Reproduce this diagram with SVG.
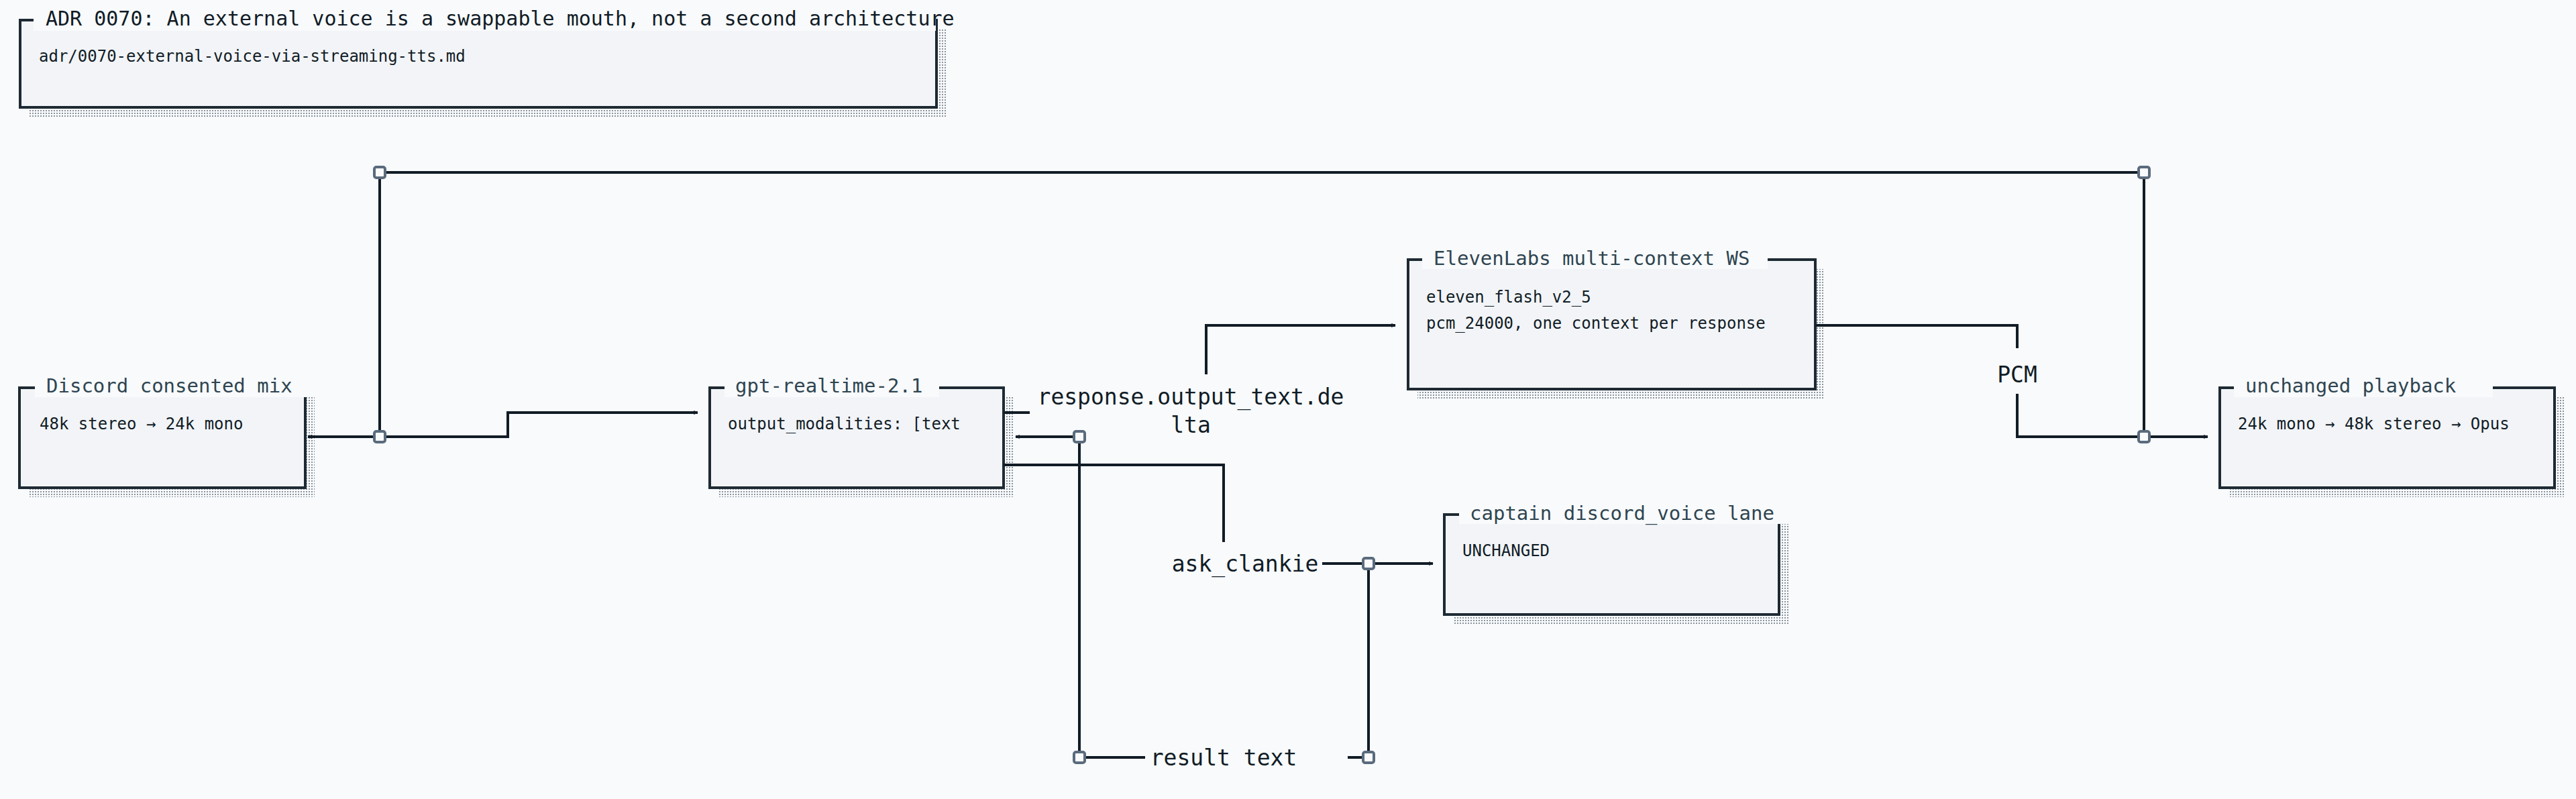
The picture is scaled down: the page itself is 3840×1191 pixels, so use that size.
<svg xmlns="http://www.w3.org/2000/svg" width="3840" height="1191" viewBox="0 0 3840 1191">
<defs>
<pattern id="dots" width="4" height="4" patternUnits="userSpaceOnUse"><rect width="4" height="4" fill="#f8fafc"/><rect width="2" height="2" fill="#8a939c"/></pattern>
<marker id="arr" viewBox="0 0 10 10" refX="9" refY="5" markerWidth="7" markerHeight="7" orient="auto-start-reverse" markerUnits="userSpaceOnUse"><path d="M0,0 L10,5 L0,10 L3,5 z" fill="#111c26"/></marker>
<style>
.box{fill:#f2f4f7;stroke:#1e2a33;stroke-width:4}
.sh{fill:url(#dots)}
.tbg{fill:#f8fafc}
.ttl{font-family:"DejaVu Sans Mono",monospace;font-size:29px;fill:#2f4550}
.body{font-family:"DejaVu Sans Mono",monospace;font-size:24px;fill:#111c26}
.lbl{font-family:"DejaVu Sans Mono",monospace;font-size:33px;fill:#111c26;text-anchor:middle}
.ln{fill:none;stroke:#111c26;stroke-width:4}
.jn{fill:#f8fafc;stroke:#5a6b7c;stroke-width:4}
</style>
</defs>
<rect width="3840" height="1191" fill="#f8fafc"/>

<g id="adr">
<rect class="sh" x="44" y="44" width="1366" height="130"/>
<rect class="box" x="30" y="30" width="1366" height="130"/>
<rect class="tbg" x="50" y="10" width="1345" height="36"/>
<text x="68" y="38" class="ttl" style="fill:#111c26;font-size:30px">ADR 0070: An external voice is a swappable mouth, not a second architecture</text>
<text x="58" y="92" class="body">adr/0070-external-voice-via-streaming-tts.md</text>
</g>

<g id="discord">
<rect class="sh" x="43" y="592" width="426" height="149"/>
<rect class="box" x="29" y="578" width="426" height="149"/>
<rect class="tbg" x="52" y="556" width="405" height="36"/>
<text x="69" y="585" class="ttl">Discord consented mix</text>
<text x="59" y="640" class="body">48k stereo → 24k mono</text>
</g>

<g id="gpt">
<rect class="sh" x="1072" y="592" width="438" height="149"/>
<rect class="box" x="1058" y="578" width="438" height="149"/>
<rect class="tbg" x="1080" y="556" width="320" height="36"/>
<text x="1096" y="585" class="ttl">gpt-realtime-2.1</text>
<text x="1085" y="640" class="body">output_modalities: [text</text>
</g>

<g id="eleven">
<rect class="sh" x="2113" y="401" width="607" height="193"/>
<rect class="box" x="2099" y="387" width="607" height="193"/>
<rect class="tbg" x="2120" y="365" width="515" height="36"/>
<text x="2137" y="395" class="ttl">ElevenLabs multi-context WS</text>
<text x="2126" y="451" class="body">eleven_flash_v2_5</text>
<text x="2126" y="490" class="body">pcm_24000, one context per response</text>
</g>

<g id="playback">
<rect class="sh" x="3323" y="592" width="499" height="149"/>
<rect class="box" x="3309" y="578" width="499" height="149"/>
<rect class="tbg" x="3330" y="556" width="386" height="36"/>
<text x="3347" y="585" class="ttl">unchanged playback</text>
<text x="3336" y="640" class="body">24k mono → 48k stereo → Opus</text>
</g>

<g id="captain">
<rect class="sh" x="2167" y="781" width="499" height="149"/>
<rect class="box" x="2153" y="767" width="499" height="149"/>
<rect class="tbg" x="2175" y="745" width="490" height="36"/>
<text x="2191" y="775" class="ttl">captain discord_voice lane</text>
<text x="2180" y="829" class="body">UNCHANGED</text>
</g>

<g id="connectors">
<path class="ln" d="M566,651 V257 H3196 V651"/>
<path class="ln" d="M566,651 H459" marker-end="url(#arr)"/>
<path class="ln" d="M566,651 H757 V615 H1040" marker-end="url(#arr)"/>
<path class="ln" d="M1496,615 H1535"/>
<text x="1775" y="603" class="lbl">response.output_text.de</text>
<text x="1775" y="645" class="lbl">lta</text>
<path class="ln" d="M1798,558 V485 H2080" marker-end="url(#arr)"/>
<path class="ln" d="M2706,485 H3007 V519"/>
<text x="3007" y="570" class="lbl">PCM</text>
<path class="ln" d="M3007,587 V651 H3196"/>
<path class="ln" d="M3196,651 H3291" marker-end="url(#arr)"/>
<path class="ln" d="M1496,693 H1824 V808"/>
<text x="1856" y="852" class="lbl">ask_clankie</text>
<path class="ln" d="M1971,840 H2040"/>
<path class="ln" d="M2040,840 H2136" marker-end="url(#arr)"/>
<path class="ln" d="M2040,840 V1129 H2009"/>
<text x="1824" y="1141" class="lbl">result text</text>
<path class="ln" d="M1707,1129 H1609 V651"/>
<path class="ln" d="M1609,651 H1514" marker-end="url(#arr)"/>
<rect class="jn" x="558" y="249" width="16" height="16" rx="3"/>
<rect class="jn" x="3188" y="249" width="16" height="16" rx="3"/>
<rect class="jn" x="558" y="643" width="16" height="16" rx="3"/>
<rect class="jn" x="3188" y="643" width="16" height="16" rx="3"/>
<rect class="jn" x="1601" y="643" width="16" height="16" rx="3"/>
<rect class="jn" x="2032" y="832" width="16" height="16" rx="3"/>
<rect class="jn" x="2032" y="1121" width="16" height="16" rx="3"/>
<rect class="jn" x="1601" y="1121" width="16" height="16" rx="3"/>
</g>
</svg>
